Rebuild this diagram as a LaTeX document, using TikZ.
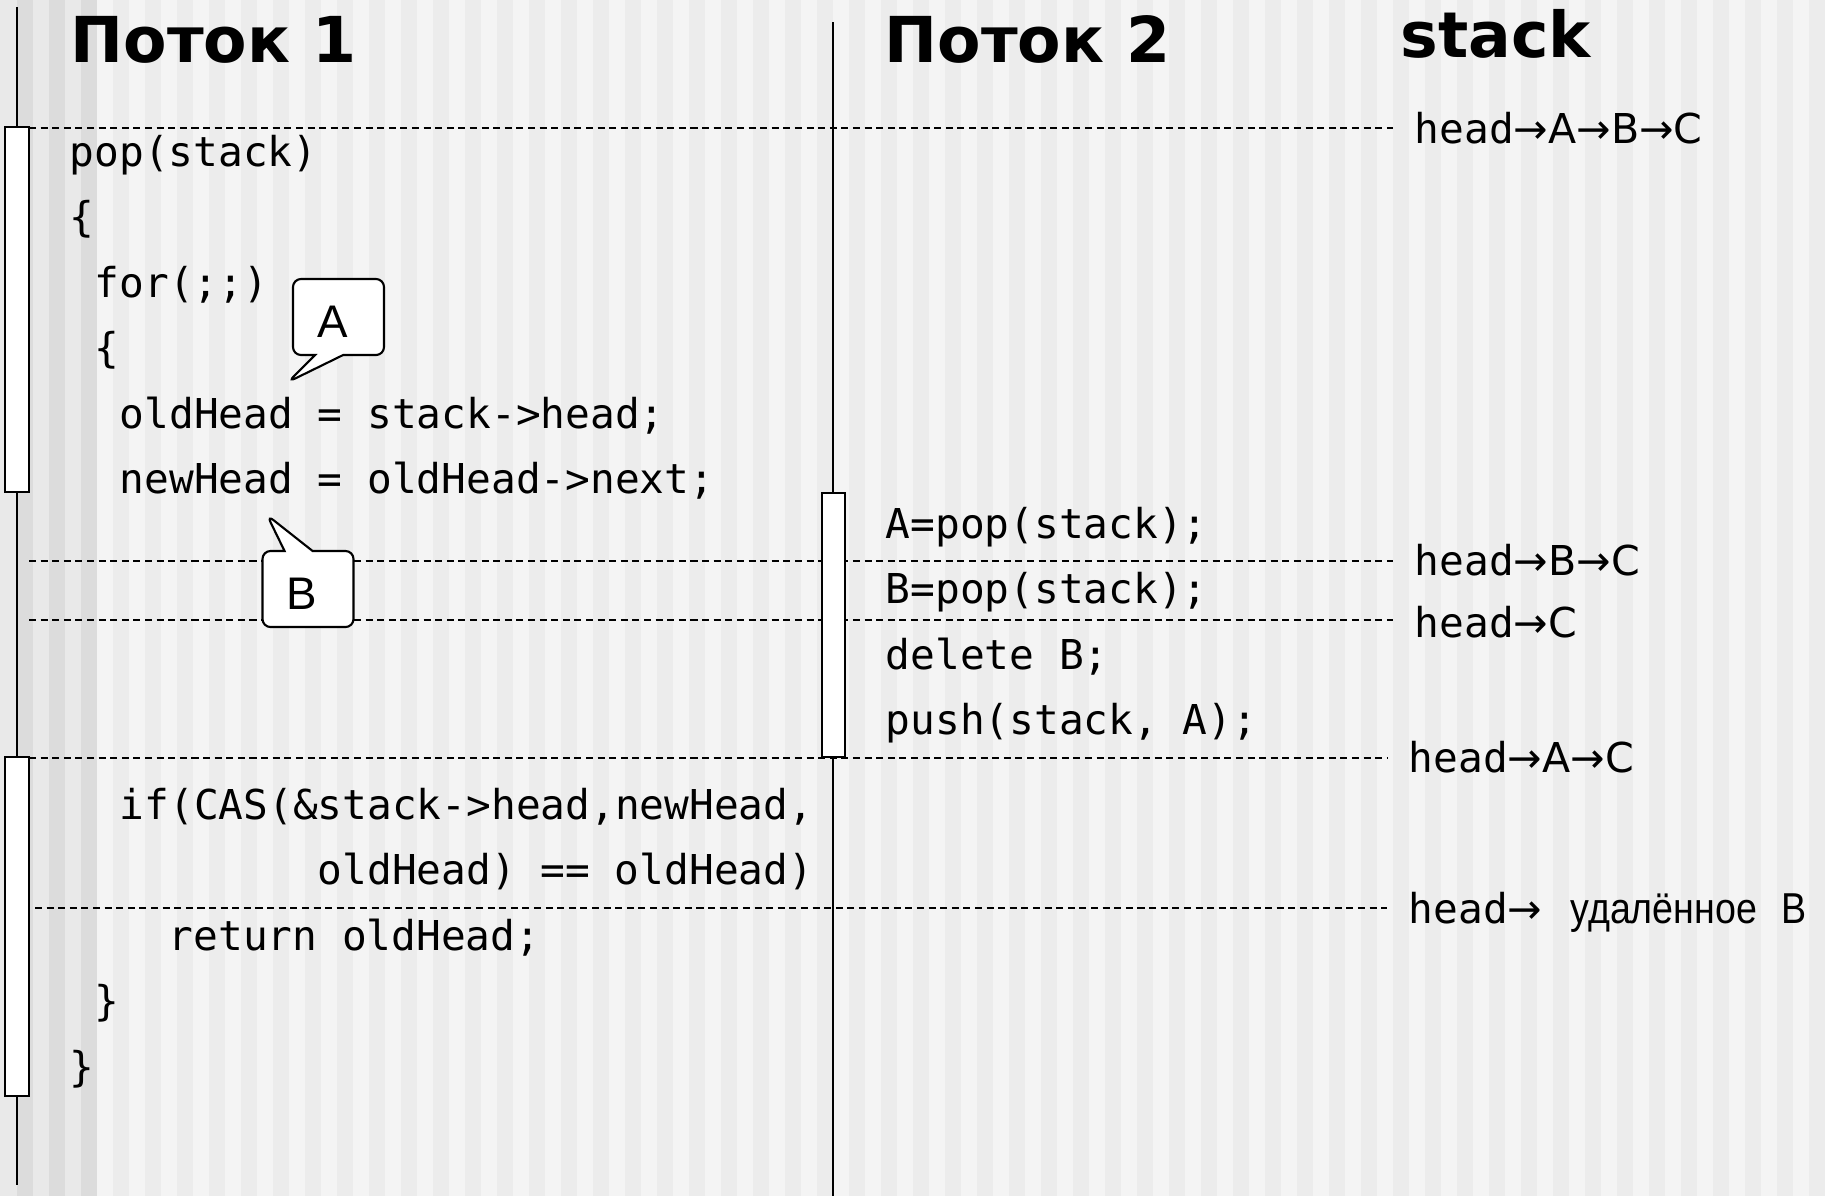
\documentclass[tikz,border=0pt]{standalone}
\usepackage{fontspec}
\setmainfont{Liberation Sans}
\setmonofont{DejaVu Sans Mono}
\newfontfamily\headfont{DejaVu Sans}
\newfontfamily\narrowfont[FakeStretch=0.87]{Liberation Sans}
\newcommand\toarrow[1]{{\headfont →#1}}
\usetikzlibrary{shapes.callouts,positioning}
\definecolor{stripeLite}{HTML}{F4F4F4}
\definecolor{stripeDark}{HTML}{ECECEC}
\definecolor{bandLite}{HTML}{E9E9E9}
\definecolor{bandDark}{HTML}{DCDCDC}
\tikzset{
  code/.style={anchor=base west, inner sep=0pt, font=\ttfamily\fontsize{11.7}{14}\selectfont},
  title/.style={anchor=base west, inner sep=0pt, font=\headfont\bfseries\fontsize{18}{22}\selectfont},
  state/.style={anchor=base west, inner xsep=6pt, inner ysep=0pt,
                font=\ttfamily\fontsize{11.7}{14}\selectfont},
  lifeline/.style={line width=0.6pt},
  actbar/.style={draw, fill=white, line width=0.6pt, inner sep=0pt},
  tick/.style={dash pattern=on 2pt off 1.3pt, line width=0.55pt}
}

\begin{document}
\begin{tikzpicture}[x=0.01cm, y=-0.01cm,
    bubble/.style={rectangle callout, draw, fill=white, rounded corners=2.3pt, line width=0.6pt,
                   minimum width=0.91cm, minimum height=0.76cm, callout pointer width=0.28cm,
                   text height=11.6pt, font=\fontsize{13}{15}\selectfont}
    ]
    \useasboundingbox (0,0) rectangle (1825,1196);
    \fill[stripeLite] (0,0) rectangle (1825,1196);
    \foreach \i in {7,9,...,113}
      \fill[stripeDark] ({16*\i+1},0) rectangle ({16*\i+17},1196);
    \fill[bandLite] (0,0) rectangle (97,1196);
    \foreach \i in {1,3,5}
      \fill[bandDark] ({16*\i+1},0) rectangle ({16*\i+17},1196);

    \node[title] (t1) at (70,62) {Поток 1};
    \node[title] (t2) at (884,62) {Поток 2};
    \node[title] (t3) at (1400,57) {stack};

    \coordinate (l1top) at (17,7);
    \coordinate (l1bot) at (17,1185);
    \coordinate (l2top) at (833,22);
    \coordinate (l2bot) at (833,1196);
    \draw[lifeline] (l1top) -- (l1bot);
    \draw[lifeline] (l2top) -- (l2bot);

    \node[state] (s1) at (1393,143) {head\toarrow{A}\toarrow{B}\toarrow{C}};
    \node[state] (s2) at (1393,575) {head\toarrow{B}\toarrow{C}};
    \node[state] (s3) at (1393,637) {head\toarrow{C}};
    \node[state] (s4) at (1387,772) {head\toarrow{A}\toarrow{C}};
    \node[state] (s5) at (1387,923) {head\toarrow{}\hspace{8pt}{\narrowfont\fontsize{12.3}{14}\selectfont удалённое\hspace{7pt}В}};

    \coordinate (m1) at (29,128);
    \coordinate (m2) at (29,561);
    \coordinate (m3) at (29,620);
    \coordinate (m4) at (29,758);
    \coordinate (m5) at (35,908);
    \draw[tick] (m1) -- (m1 -| s1.west);
    \draw[tick] (m2) -- (m2 -| s2.west);
    \draw[tick] (m3) -- (m3 -| s3.west);
    \draw[tick] (m4) -- (m4 -| s4.west);
    \draw[tick] (m5) -- (m5 -| s5.west);

    \node[actbar, minimum width=0.24cm, minimum height=3.65cm] (bar1) at (17,309.5) {};
    \node[actbar, minimum width=0.24cm, minimum height=3.39cm] (bar2) at (17,926.5) {};
    \node[actbar, minimum width=0.23cm, minimum height=2.64cm] (bar3) at (833.5,625) {};

    \node[code] (c1) at (69,166) {pop(stack)};
    \node[code] (c2) at (69,231) {\{};
    \node[code] (c3) at (94,297) {for(;;)};
    \node[code] (c4) at (94,362) {\{};
    \node[code] (c5) at (119,428) {oldHead = stack->head;};
    \node[code] (c6) at (119,493) {newHead = oldHead->next;};
    \node[code] (c7) at (119,819) {if(CAS(\&stack->head,newHead,};
    \node[code] (c8) at (317,884) {oldHead) == oldHead)};
    \node[code] (c9) at (168,950) {return oldHead;};
    \node[code] (c10) at (94,1015) {\}};
    \node[code] (c11) at (69,1081) {\}};

    \node[code] (d1) at (885,538) {A=pop(stack);};
    \node[code] (d2) at (885,603) {B=pop(stack);};
    \node[code] (d3) at (885,669) {delete B;};
    \node[code] (d4) at (885,734) {push(stack, A);};

    \coordinate (tipA) at (288,382);
    \coordinate (tipB) at (267,515);
    \node[bubble, callout absolute pointer={(tipA)}] (cA) at (338.5,317) {A\kern3.3pt};
    \node[bubble, callout absolute pointer={(tipB)}] (cB) at (308,589) {B\kern3.3pt};
  \end{tikzpicture}
\end{document}
